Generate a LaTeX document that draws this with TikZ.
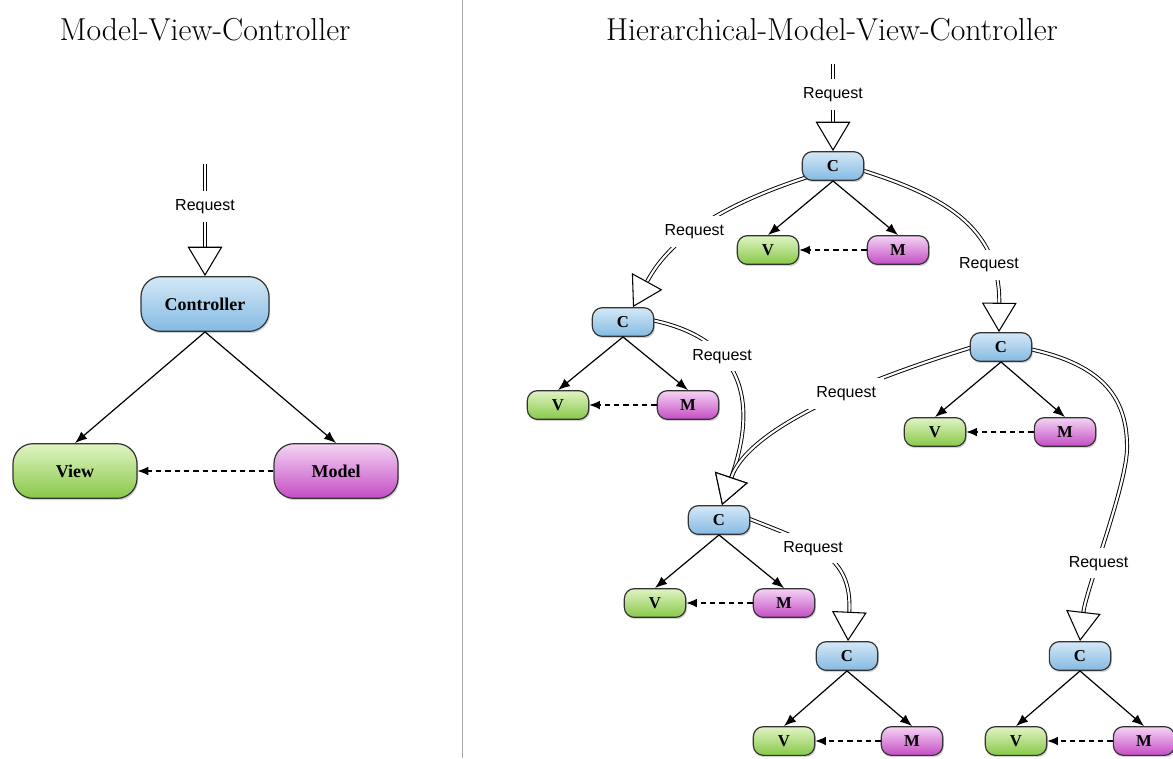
\documentclass[tikz,border=0pt]{standalone}
\usepackage{fontspec}
\usetikzlibrary{arrows.meta,shadows,calc,backgrounds}
\newfontfamily\reqfont{Liberation Sans}
\newfontfamily\boxfont{Liberation Serif}
\definecolor{cTop}{HTML}{D4E8F7}
\definecolor{cBot}{HTML}{84BAE2}
\definecolor{gTop}{HTML}{DFF4C4}
\definecolor{gBot}{HTML}{88C848}
\definecolor{mTop}{HTML}{F4D4F4}
\definecolor{mBot}{HTML}{C44CC4}
\begin{document}
\begin{tikzpicture}[x=0.75pt,y=-0.75pt,
  box/.style={draw=black!80, line width=0.9pt, align=center, inner sep=0pt,
    drop shadow={shadow xshift=0.9pt, shadow yshift=-1.4pt, opacity=0.35}},
  big/.style={box, minimum width=96pt, minimum height=41pt, rounded corners=15pt,
    font=\boxfont\bfseries\fontsize{13.5}{16}\selectfont},
  small/.style={box, minimum width=46pt, minimum height=21.5pt, rounded corners=7.5pt,
    font=\boxfont\bfseries\fontsize{12.5}{14}\selectfont},
  ctl/.style={top color=cTop, bottom color=cBot},
  vw/.style={top color=gTop, bottom color=gBot},
  mdl/.style={top color=mTop, bottom color=mBot},
  req/.style={double=white, double distance=1.6pt, line width=0.7pt,
    -{Triangle[length=22pt, width=26pt, fill=white, line width=0.8pt]}},
  lbl/.style={fill=white, font=\reqfont\fontsize{12}{14}\selectfont, inner sep=6pt},
  call/.style={line width=0.9pt, -{Latex[length=9pt,width=7pt]}},
  upd/.style={line width=0.8pt, dash pattern=on 4pt off 3pt, -{Latex[length=8pt,width=6.5pt]}},
  ttl/.style={font=\fontsize{23.8}{28}\selectfont}
]
\useasboundingbox (0,0) rectangle (1173,758);

% titles and divider
\node[ttl] (t1) at (205,30) {Model-View-Controller};
\node[ttl] (t2) at (832,30) {Hierarchical-Model-View-Controller};
\draw[gray!70, line width=0.6pt] (462,0) -- (462,758);

% left MVC
\node[big, ctl] (ctrl) at (205,304) {Controller};
\node[big, vw, minimum width=93pt] (view) at (75,471) {View};
\node[big, mdl, minimum width=93pt] (model) at (336,471) {Model};
\coordinate (srcL) at (205,164);

% right HMVC
\node[small, ctl] (c1) at (833,166) {C};
\node[small, vw]  (v1) at (768,250) {V};
\node[small, mdl] (m1) at (898,250) {M};
\node[small, ctl] (c2) at (623,322) {C};
\node[small, vw]  (v2) at (558,405) {V};
\node[small, mdl] (m2) at (688,405) {M};
\node[small, ctl] (c3) at (1001,347) {C};
\node[small, vw]  (v3) at (935,432) {V};
\node[small, mdl] (m3) at (1065,432) {M};
\node[small, ctl] (c4) at (719,520) {C};
\node[small, vw]  (v4) at (655,603) {V};
\node[small, mdl] (m4) at (784,603) {M};
\node[small, ctl] (c5) at (847,656) {C};
\node[small, vw]  (v5) at (784,741) {V};
\node[small, mdl] (m5) at (912,741) {M};
\node[small, ctl] (c6) at (1080,656) {C};
\node[small, vw]  (v6) at (1016,741) {V};
\node[small, mdl] (m6) at (1144,741) {M};
\coordinate (srcR) at (833,64);

% controller -> view/model, model -> view
\foreach \c/\v/\m in {ctrl/view/model, c1/v1/m1, c2/v2/m2, c3/v3/m3, c4/v4/m4, c5/v5/m5, c6/v6/m6}{
  \draw[call] (\c.south) -- (\v.north);
  \draw[call] (\c.south) -- (\m.north);
  \draw[upd] (\m.west) -- (\v.east);
}

\begin{scope}[on background layer]
\draw[req] (srcL) -- node[lbl, pos=.38] {Request} (ctrl.north);
\draw[req] (srcR) -- node[lbl, pos=.35] {Request} (c1.north);
% C1 -> C2
\draw[req] ($(c1.south west)+(6,-4)$) .. controls (690,215) and (660,258) ..
  node[lbl, pos=.45] {Request} ($(c2.north)+(10,0)$);
% C1 -> C3
\draw[req] ($(c1.east)+(-3,4)$) .. controls (940,195) and (1000,225) ..
  node[lbl, pos=.75] {Request} ($(c3.north)+(-2,0)$);
% C2 -> C4
\draw[req] ($(c2.east)+(-3,-2)$) .. controls (775,345) and (742,446) ..
  node[lbl, pos=.28] {Request} ($(c4.north)+(3,0)$);
% C3 -> C4
\draw[req] ($(c3.west)+(3,0)$) .. controls (800,400) and (742,446) ..
  node[lbl, pos=.3] {Request} ($(c4.north)+(3,0)$);
% C4 -> C5
\draw[req] ($(c4.east)+(-3,-2)$) .. controls (815,545) and (852,555) ..
  node[lbl, pos=.4] {Request} ($(c5.north)+(1,0)$);
% C3 -> C6
\draw[req] ($(c3.east)+(-3,2)$) .. controls (1105,365) and (1128,400) .. (1127,450)
  .. controls (1125,490) and (1086,590) .. node[lbl, pos=.6] {Request} (c6.north);
\end{scope}
\end{tikzpicture}
\end{document}
